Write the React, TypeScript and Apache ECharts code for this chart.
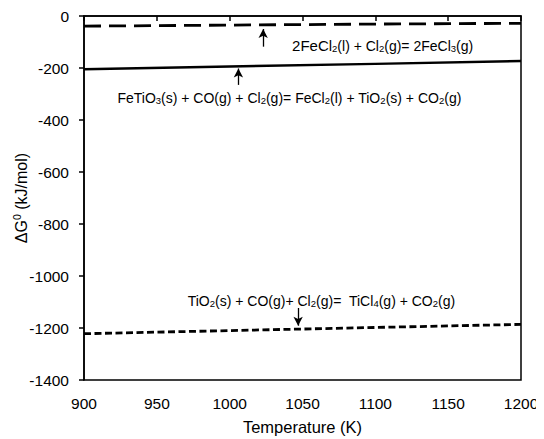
import React, { useEffect, useRef } from "react";
import * as echarts from "echarts";

const temperatures = [900, 1000, 1100, 1200];
const feCl3Values = [-39, -35, -31, -28];
const ilmeniteValues = [-205, -194, -184, -173];
const tio2Values = [-1222, -1210, -1198, -1186];

const FONT = "Liberation Sans, Arial, sans-serif";

const rich = {
  n: { fontSize: 14, lineHeight: 17, fontFamily: FONT, color: "#000", verticalAlign: "bottom" },
  b: { fontSize: 15, lineHeight: 17, fontFamily: FONT, color: "#000", verticalAlign: "bottom" },
  s: { fontSize: 9.5, lineHeight: 9, fontFamily: FONT, color: "#000", verticalAlign: "bottom" },
};

const label1 = "{b|2FeCl}{s|2}{n|(l) + Cl}{s|2}{n|(g)= 2FeCl}{s|3}{n|(g)}";
const label2 =
  "{n|FeTiO}{s|3}{n|(s) + CO(g) + Cl}{s|2}{n|(g)= FeCl}{s|2}{n|(l) + TiO}{s|2}{n|(s) + CO}{s|2}{n|(g)}";
const label3 = "{n|TiO}{s|2}{n|(s) + CO(g)+ Cl}{s|2}{n|(g)=  TiCl}{s|4}{n|(g) + CO}{s|2}{n|(g)}";

function pairs(values: number[]) {
  return temperatures.map((t, i) => [t, values[i]]);
}

function labelPoint(x: number, y: number, text: string) {
  return {
    coord: [x, y],
    symbol: "circle",
    symbolSize: 1,
    itemStyle: { color: "rgba(0,0,0,0)" },
    label: { show: true, position: "inside", formatter: text, rich },
  };
}

function arrow(x: number, y0: number, y1: number) {
  return {
    symbol: ["none", "arrow"],
    symbolSize: [7, 9],
    silent: true,
    label: { show: false },
    lineStyle: { color: "#000", width: 1.3, type: "solid" },
    data: [[{ coord: [x, y0] }, { coord: [x, y1] }]],
  };
}

export default function App() {
  const ref = useRef<HTMLDivElement>(null);
  useEffect(() => {
    if (!ref.current) return;
    const chart = echarts.init(ref.current, null, { renderer: "svg" });
    chart.setOption({
      animation: false,
      grid: {
        left: 84,
        right: 23,
        top: 16,
        bottom: 59,
        containLabel: false,
        outerBoundsMode: "none",
        show: true,
        borderColor: "#000",
        borderWidth: 1.5,
        backgroundColor: "transparent",
      },
      xAxis: {
        type: "value",
        min: 900,
        max: 1200,
        interval: 50,
        name: "Temperature (K)",
        nameLocation: "middle",
        nameGap: 38,
        nameMoveOverlap: false,
        nameTextStyle: { fontFamily: FONT, fontSize: 16.5, color: "#000" },
        axisLine: { show: true, lineStyle: { color: "#000", width: 1.5 } },
        axisTick: { show: true, length: 5, lineStyle: { color: "#000", width: 1.5 } },
        axisLabel: {
          fontFamily: FONT,
          fontSize: 15.5,
          color: "#000",
          margin: 15,
          formatter: (v: number) => String(v),
        },
        splitLine: { show: false },
      },
      yAxis: {
        type: "value",
        min: -1400,
        max: 0,
        interval: 200,
        name: "{n|ΔG}{p|0}{n| (kJ/mol)}",
        nameLocation: "middle",
        nameGap: 55,
        nameMoveOverlap: false,
        nameTextStyle: {
          fontFamily: FONT,
          fontSize: 16,
          color: "#000",
          rich: {
            n: { fontFamily: FONT, fontSize: 16, color: "#000", lineHeight: 18, verticalAlign: "bottom" },
            p: { fontFamily: FONT, fontSize: 10.5, color: "#000", lineHeight: 11, verticalAlign: "top" },
          },
        },
        axisLine: { show: true, lineStyle: { color: "#000", width: 1.5 } },
        axisTick: { show: true, length: 5, lineStyle: { color: "#000", width: 1.5 } },
        axisLabel: {
          fontFamily: FONT,
          fontSize: 15.5,
          color: "#000",
          margin: 15,
          formatter: (v: number) => String(v),
        },
        splitLine: { show: false },
      },
      series: [
        {
          type: "line",
          data: pairs(feCl3Values),
          symbol: "none",
          lineStyle: { color: "#000", width: 2.8, type: [17, 8] },
          markPoint: { data: [labelPoint(1105, -110, label1)] },
          markLine: arrow(1023, -118, -50),
        },
        {
          type: "line",
          data: pairs(ilmeniteValues),
          symbol: "none",
          lineStyle: { color: "#000", width: 2.4, type: "solid" },
          markPoint: { data: [labelPoint(1041, -310, label2)] },
          markLine: arrow(1006, -265, -202),
        },
        {
          type: "line",
          data: pairs(tio2Values),
          symbol: "none",
          lineStyle: { color: "#000", width: 2.8, type: [7, 3.5] },
          markPoint: { data: [labelPoint(1063, -1091, label3)] },
          markLine: arrow(1047, -1123, -1191),
        },
      ],
    });
    return () => chart.dispose();
  }, []);
  return <div ref={ref} style={{ width: 544, height: 439, marginLeft: -8, marginTop: -8 }} />;
}
